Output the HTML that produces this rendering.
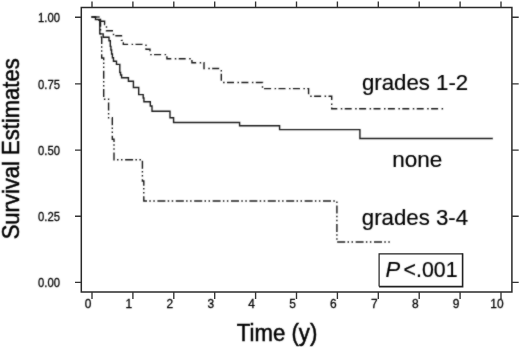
<!DOCTYPE html>
<html><head><meta charset="utf-8"><title>Survival Estimates</title>
<style>
html,body{margin:0;padding:0;background:#fff;overflow:hidden;width:520px;height:347px;}
svg{display:block;}
text{font-family:"Liberation Sans",Arial,sans-serif;fill:#000;stroke:#000;stroke-width:0.2px;}
.tl{stroke-width:0.3px;}
.ax{stroke-width:0.5px;}
.tl{font-size:12.6px;}
.ax{font-size:23.6px;}
.lg{font-size:22px;}
</style></head><body>
<svg width="520" height="347" viewBox="0 0 520 347">
<defs><filter id="soft" filterUnits="userSpaceOnUse" x="0" y="0" width="520" height="347"><feConvolveMatrix order="3" kernelMatrix="1 2 1 2 20 2 1 2 1" divisor="32" edgeMode="none"/></filter></defs>
<rect x="81.3" y="7.5" width="430.6" height="284.5" fill="none" stroke="#2a2a2a" stroke-width="1.5"/>
<path d="M92.0,292 V299 M92.0,7 V1.5 M132.9,292 V299 M132.9,7 V1.5 M173.8,292 V299 M173.8,7 V1.5 M214.7,292 V299 M214.7,7 V1.5 M255.6,292 V299 M255.6,7 V1.5 M296.5,292 V299 M296.5,7 V1.5 M337.4,292 V299 M337.4,7 V1.5 M378.3,292 V299 M378.3,7 V1.5 M419.2,292 V299 M419.2,7 V1.5 M460.1,292 V299 M460.1,7 V1.5 M501.0,292 V299 M501.0,7 V1.5 M81,282.3 H75 M512,282.3 H518.7 M81,216.2 H75 M512,216.2 H518.7 M81,150.1 H75 M512,150.1 H518.7 M81,83.9 H75 M512,83.9 H518.7 M81,17.2 H75 M512,17.2 H518.7" stroke="#333" stroke-width="1.35" fill="none"/>
<path d="M379.1,286.6 V253.8 H462.6" fill="none" stroke="#222" stroke-width="1.2"/>
<path d="M379.1,286.6 H462.6 V253.2" fill="none" stroke="#222" stroke-width="1.6"/>
<g filter="url(#soft)">
<path d="M91.5,17 H95.5 V19.5 H99.8 V33.9 H103.2 V37.2 H109 V40.7 H110.3 V46.4 H110.9 V50 H111.6 V54 H112.4 V57.8 H113.5 V61.2 H116.5 V64.4 H119.8 V72.5 H120.6 V75 H121.6 V77.7 H128.4 V81.3 H133.4 V87.5 H138.7 V94.6 H143.2 V98 H143.9 V101.7 H150.3 V106 H152 V111.3 H170 V117.8 H173.6 V122.5 H239.6 V125.8 H279.6 V129.65 H359.9 V138.45 H492.8" stroke="#1a1a1a" stroke-width="1.4" fill="none"/>
<path d="M91.5,17 H99 V21.3 H104.6 V24.5 H106.5 V30.7 H113.5 V35.8 H121.5 V40.4 H123.3 V44.4 H146 V49.2 H150 V54.6 H166.9 V58.8 H191.9 V62.7 H204 V68.5 H221.3 V82.5 H262.5 V88.6 H308.6 V96.2 H331.7 V108.8 H445.2" stroke="#1a1a1a" stroke-width="1.4" fill="none" stroke-dasharray="7 3.5 1.5 2.4" stroke-dashoffset="0.6"/>
<path d="M91.5,17 H100.5 V37 H101.7 V58 H103.7 V99.2 H108.6 V117.7 H112.3 V139.2 H114 V159.7 H142.4 V181 H143.8 V201 H336.9 V242 H390.4" stroke="#1a1a1a" stroke-width="1.4" fill="none" stroke-dasharray="8 2.3 1.5 2.5 1.5 2.6" stroke-dashoffset="7.7"/>
<text transform="translate(59.9,286.9) scale(0.895,1)" text-anchor="end" class="tl">0.00</text>
<text transform="translate(59.9,220.8) scale(0.895,1)" text-anchor="end" class="tl">0.25</text>
<text transform="translate(59.9,154.7) scale(0.895,1)" text-anchor="end" class="tl">0.50</text>
<text transform="translate(59.9,88.5) scale(0.895,1)" text-anchor="end" class="tl">0.75</text>
<text transform="translate(59.9,21.8) scale(0.895,1)" text-anchor="end" class="tl">1.00</text>
<text transform="translate(88.0,307.8) scale(0.95,1)" text-anchor="middle" class="tl">0</text>
<text transform="translate(128.9,307.8) scale(0.95,1)" text-anchor="middle" class="tl">1</text>
<text transform="translate(169.8,307.8) scale(0.95,1)" text-anchor="middle" class="tl">2</text>
<text transform="translate(210.7,307.8) scale(0.95,1)" text-anchor="middle" class="tl">3</text>
<text transform="translate(251.6,307.8) scale(0.95,1)" text-anchor="middle" class="tl">4</text>
<text transform="translate(292.5,307.8) scale(0.95,1)" text-anchor="middle" class="tl">5</text>
<text transform="translate(333.4,307.8) scale(0.95,1)" text-anchor="middle" class="tl">6</text>
<text transform="translate(374.3,307.8) scale(0.95,1)" text-anchor="middle" class="tl">7</text>
<text transform="translate(415.2,307.8) scale(0.95,1)" text-anchor="middle" class="tl">8</text>
<text transform="translate(456.1,307.8) scale(0.95,1)" text-anchor="middle" class="tl">9</text>
<text transform="translate(497.0,307.8) scale(0.95,1)" text-anchor="middle" class="tl">10</text>
<text transform="translate(19.2,148.85) rotate(-90) scale(0.933,1)" text-anchor="middle" class="ax">Survival Estimates</text>
<text transform="translate(277.1,340.8) scale(0.94,1)" text-anchor="middle" class="ax">Time (y)</text>
<text transform="translate(362,89.5) scale(1.01,1)" class="lg">grades 1-2</text>
<text transform="translate(392.3,167) scale(1.022,1)" class="lg">none</text>
<text transform="translate(361.8,225) scale(1.01,1)" class="lg">grades 3-4</text>
<text x="385.6" y="276.8" class="lg" font-style="italic">P</text>
<text transform="translate(403.6,276.8) scale(0.97,1)" class="lg">&lt;.001</text>
</g>
</svg>
</body></html>
